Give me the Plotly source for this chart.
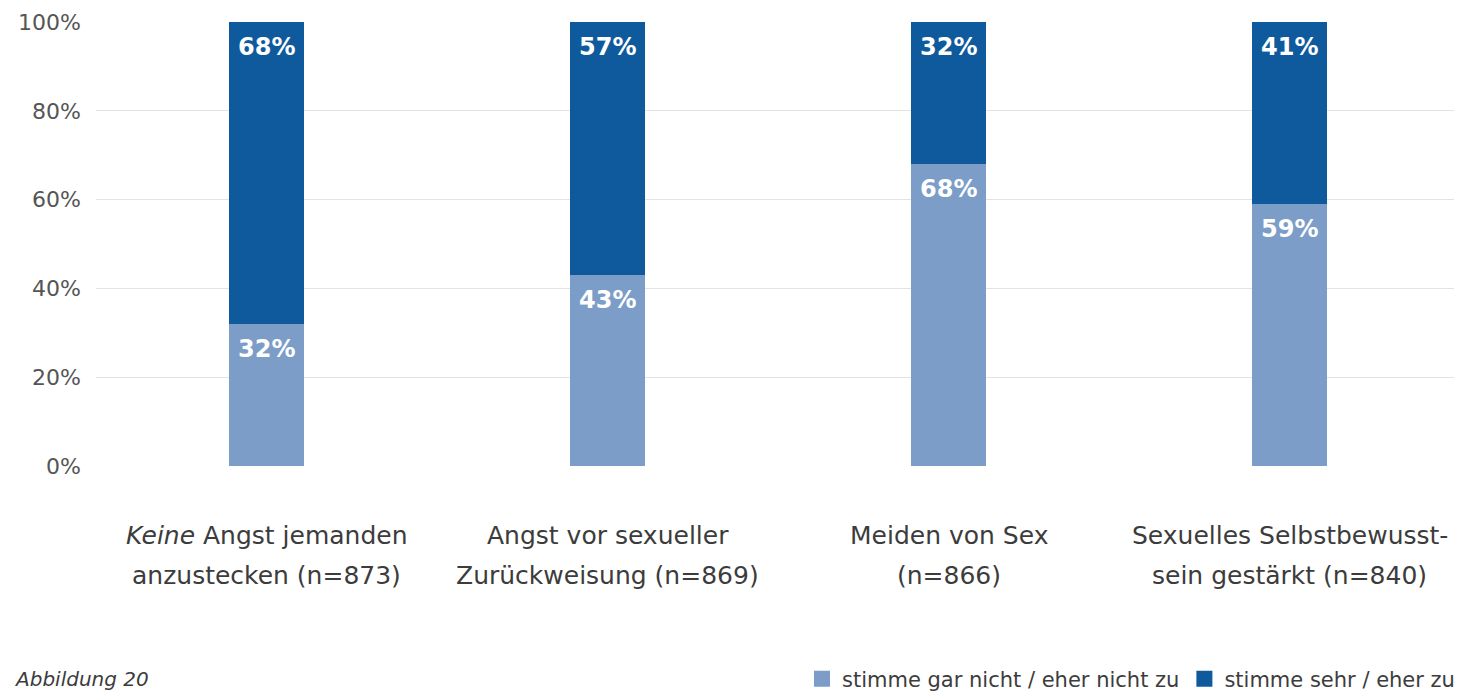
import plotly.graph_objects as go

# Werte aus Abbildung 20 (Anteile in %)
kategorien_1 = ["<i>Keine</i> Angst jemanden", "Angst vor sexueller", "Meiden von Sex", "Sexuelles Selbstbewusst-"]
kategorien_2 = ["anzustecken (n=873)", "Zurückweisung (n=869)", "(n=866)", "sein gestärkt (n=840)"]
x_keys = ["A", "B", "C", "D"]
stimme_nicht_zu = [32, 43, 68, 59]
stimme_zu = [68, 57, 32, 41]
series_names = ["stimme gar nicht / eher nicht zu", "stimme sehr / eher zu"]
colors = ["#7b9dc8", "#0f5a9c"]
yticks = [0, 20, 40, 60, 80, 100]

FONT = "DejaVu Sans"
TXT = "#3c3c3c"
fig = go.Figure()

fig.add_trace(go.Bar(x=x_keys, y=stimme_nicht_zu, marker=dict(color=colors[0], line_width=0),
                     width=0.22, showlegend=False, hoverinfo="skip"))
fig.add_trace(go.Bar(x=x_keys, y=stimme_zu, marker=dict(color=colors[1], line_width=0),
                     width=0.22, showlegend=False, hoverinfo="skip"))

# legend entries with square markers
for name, c in zip(series_names, colors):
    fig.add_trace(go.Scatter(x=[None], y=[None], mode="markers", name=name,
                             marker=dict(symbol="square", size=18, color=c)))

annotations = []
# value labels at top of each segment
for k, a, b in zip(x_keys, stimme_nicht_zu, stimme_zu):
    for val, top in ((a, a), (b, a + b)):
        annotations.append(dict(x=k, y=top, text=f"<b>{val}%</b>", showarrow=False, yanchor="top", yshift=-9,
                                font=dict(family=FONT, size=24, color="white")))

# two-line category labels
for k, l1, l2 in zip(x_keys, kategorien_1, kategorien_2):
    annotations.append(dict(x=k, y=0, text=l1, showarrow=False, yanchor="middle", yshift=-69,
                            font=dict(family=FONT, size=25, color=TXT)))
    annotations.append(dict(x=k, y=0, text=l2, showarrow=False, yanchor="middle", yshift=-109,
                            font=dict(family=FONT, size=25, color=TXT)))

annotations.append(dict(x=-0.0616, y=-0.48, xref="paper", yref="paper", xanchor="left", yanchor="middle",
                        text="<i>Abbildung 20</i>", showarrow=False,
                        font=dict(family=FONT, size=20, color=TXT)))

# page body has an 8px margin, so the figure is drawn 8px smaller
fig.update_layout(
    barmode="stack",
    width=1454, height=683,
    margin=dict(l=88, r=2, t=14, b=225, autoexpand=False),
    paper_bgcolor="white", plot_bgcolor="white",
    font=dict(family=FONT, color="#555555"),
    xaxis=dict(showticklabels=False, showgrid=False, zeroline=False, showline=False, fixedrange=True),
    yaxis=dict(range=[0, 100], tickvals=yticks, ticktext=[f"{v}%" for v in yticks], automargin=False,
               showgrid=True, gridcolor="#e3e3e3", gridwidth=1, zeroline=False,
               tickfont=dict(family=FONT, size=22, color="#555555"), ticklabelstandoff=14),
    legend=dict(orientation="h", x=1.0, xanchor="right", y=-0.48, yanchor="middle",
                traceorder="normal", font=dict(family=FONT, size=21, color=TXT),
                itemwidth=30),
    annotations=annotations,
)

fig.write_html("out.html")
